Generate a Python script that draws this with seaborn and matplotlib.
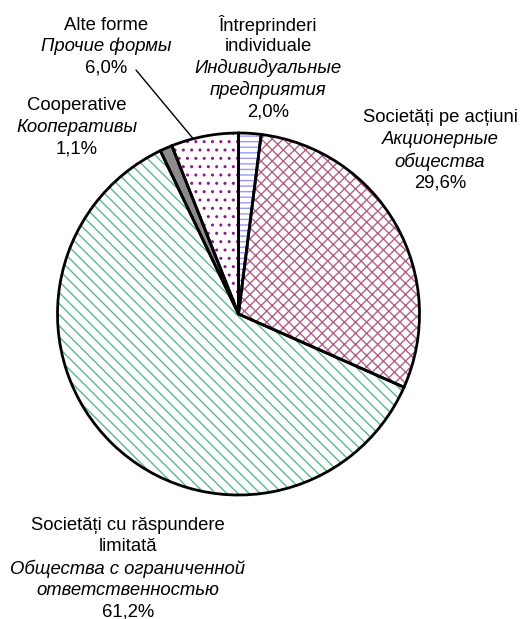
import numpy as np
import matplotlib
matplotlib.use("Agg")
import matplotlib.pyplot as plt
import seaborn as sns

sns.set_theme(style="white")
plt.rcParams['font.family'] = ['Liberation Sans', 'DejaVu Sans']
plt.rcParams['hatch.linewidth'] = 1.0

# ---- data ----
labels_ro = ["Întreprinderi\nindividuale", "Societăți pe acțiuni",
             "Societăți cu răspundere\nlimitată", "Cooperative", "Alte forme"]
labels_ru = ["Индивидуальные\nпредприятия", "Акционерные\nобщества",
             "Общества с ограниченной\nответственностью", "Кооперативы", "Прочие формы"]
values = [2.0, 29.6, 61.2, 1.1, 6.0]

# ---- style ----
hatch_colors = ["#9999ff", "#b0608a", "#5ab88c", "#808080", "#8b1a8b"]
hatches = ["---", "xxx", "\\\\\\", "", ".."]
faces = ["white", "white", "white", "#8c8c8c", "white"]

W, H = 525, 619
fig = plt.figure(figsize=(W / 100, H / 100), dpi=100)
ax = fig.add_axes([0, 0, 1, 1])

cx, cy, r = 238.5, H - 314, 181

wedges, _ = ax.pie(values, startangle=90, counterclock=False,
                   center=(cx, cy), radius=r, frame=True,
                   wedgeprops=dict(linewidth=0))
for w, hc, h, fc in zip(wedges, hatch_colors, hatches, faces):
    w.set_facecolor(fc)
    w.set_edgecolor(hc)
    w.set_hatch(h)

outline, _ = ax.pie(values, startangle=90, counterclock=False,
                    center=(cx, cy), radius=r, frame=True,
                    wedgeprops=dict(fill=False, edgecolor="black", linewidth=2))
ax.set_xlim(0, W)
ax.set_ylim(0, H)
ax.set_aspect('equal')
ax.axis('off')

# ---- labels: (center x, first line y) in pixels ----
layout = [(268, 25), (440, 118), (128, 525), (77, 106), (106, 25)]
step = 21.7
fs = 13.3
for i, (x, y0) in enumerate(layout):
    lines = [(s, 'normal') for s in labels_ro[i].split("\n")]
    lines += [(s, 'italic') for s in labels_ru[i].split("\n")]
    lines += [(f"{values[i]:.1f}".replace(".", ",") + "%", 'normal')]
    for k, (s, st) in enumerate(lines):
        ax.text(x, H - (y0 + k * step), s, ha='center', va='center',
                fontsize=fs, style=st, color='black')

# leader line for "Alte forme"
w = wedges[4]
ang = np.deg2rad(w.theta1 + 0.67 * (w.theta2 - w.theta1))
ex, ey = cx + r * np.cos(ang), cy + r * np.sin(ang)
ax.plot([136, ex], [H - 70, ey], color='black', linewidth=1)

fig.savefig("out.png", dpi=100)
